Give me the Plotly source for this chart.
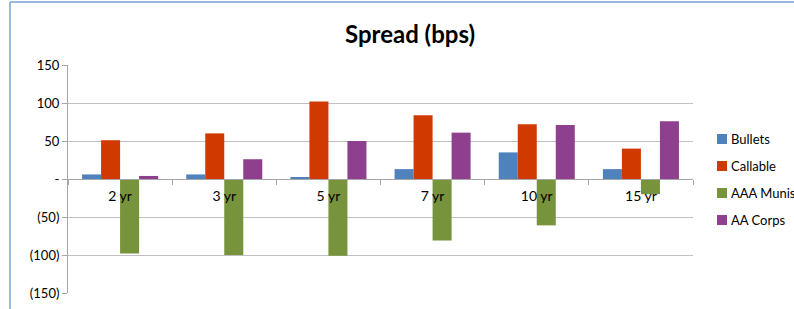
import plotly.graph_objects as go

categories = ["2 yr", "3 yr", "5 yr", "7 yr", "10 yr", "15 yr"]
series_names = ["Bullets", "Callable", "AAA Munis", "AA Corps"]
bullets = [6, 6, 2, 13, 35, 13]
callable_ = [51, 60, 102, 84, 72, 40]
aaa_munis = [-98, -100, -101, -81, -61, -20]
aa_corps = [4, 26, 50, 61, 71, 76]
colors = ["#4f81bd", "#d03a00", "#77933c", "#8e3f8e"]
ytick_vals = [-150, -100, -50, 0, 50, 100, 150]
ytick_text = ["(150)", "(100)", "(50)", "-", "50", "100", "150"]

series_values = [bullets, callable_, aaa_munis, aa_corps]
FONT = "Lato, 'Open Sans', sans-serif"

fig = go.Figure()
for name, vals, col in zip(series_names, series_values, colors):
    fig.add_trace(go.Bar(name=name, x=categories, y=vals, marker_color=col,
                         marker_line_width=0, showlegend=False))

W, H = 794, 309
L, R, T, B = 68, 101, 65, 16
pw, ph = W - L - R, H - T - B

def px2paper_x(px):
    return (px - L) / pw

def px2paper_y(py):
    return (H - B - py) / ph

fig.update_layout(
    width=W, height=H,
    margin=dict(l=L, r=R, t=T, b=B, autoexpand=False),
    plot_bgcolor="white", paper_bgcolor="white",
    barmode="group", bargap=0.27, bargroupgap=0,
    font=dict(family=FONT, size=13, color="#000000"),
    showlegend=False,
)
fig.update_yaxes(range=[-150, 150], tickvals=ytick_vals, ticktext=ytick_text,
                 showgrid=True, gridcolor="#bfbfbf", gridwidth=1,
                 showline=True, linecolor="#a6a6a6", linewidth=1,
                 ticks="outside", ticklen=5, tickcolor="#a6a6a6",
                 zeroline=False, automargin=False, tickfont=dict(size=13, family=FONT))
fig.update_xaxes(anchor="free", position=0.5, showline=True, linecolor="#a6a6a6",
                 linewidth=1, ticks="outside", ticklen=5, tickcolor="#a6a6a6",
                 tickson="boundaries", showgrid=False, automargin=False,
                 ticklabelstandoff=4,
                 tickfont=dict(size=14, family=FONT))

# title
fig.add_annotation(text="<b>Spread (bps)</b>", xref="paper", yref="paper",
                   x=px2paper_x(410), y=px2paper_y(33), xanchor="center", yanchor="middle",
                   showarrow=False, font=dict(size=24, family=FONT, color="#000000"))

# legend (drawn manually)
leg_y = [139, 166, 193, 220]
for name, col, ly in zip(series_names, colors, leg_y):
    fig.add_shape(type="rect", xref="paper", yref="paper",
                  x0=px2paper_x(717), x1=px2paper_x(727),
                  y0=px2paper_y(ly + 5), y1=px2paper_y(ly - 5),
                  fillcolor=col, line_width=0)
    fig.add_annotation(text=name, xref="paper", yref="paper",
                       x=px2paper_x(729), y=px2paper_y(ly), xanchor="left", yanchor="middle",
                       showarrow=False, font=dict(size=13, family=FONT, color="#000000"))

# chart border (light blue frame)
fig.add_shape(type="line", xref="paper", yref="paper",
              x0=px2paper_x(10), x1=px2paper_x(10), y0=px2paper_y(2), y1=px2paper_y(320),
              line=dict(color="#7aa2d6", width=1.5))
fig.add_shape(type="line", xref="paper", yref="paper",
              x0=px2paper_x(10), x1=px2paper_x(820), y0=px2paper_y(2), y1=px2paper_y(2),
              line=dict(color="#7aa2d6", width=1.5))

fig.write_html("out.html", config={"displayModeBar": False},
               post_script="document.body.style.margin='0';document.body.style.overflow='hidden';")
